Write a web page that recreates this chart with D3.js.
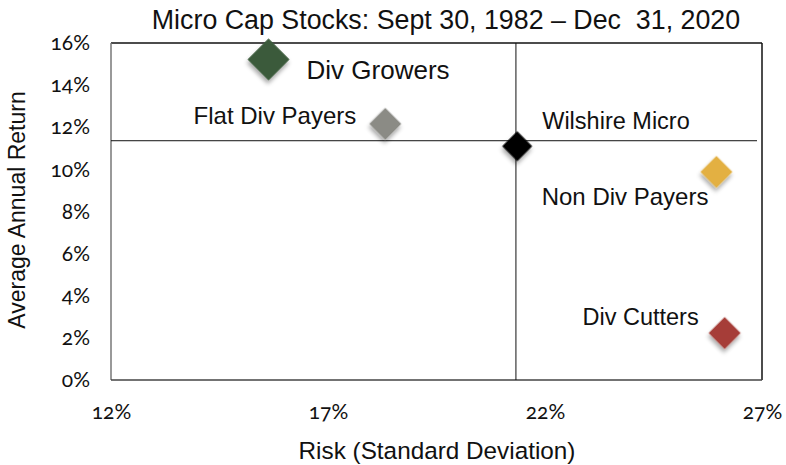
<!DOCTYPE html>
<html>
<head>
<meta charset="utf-8">
<script src="https://cdn.jsdelivr.net/npm/d3@7"></script>
<style>
  body { margin: 0; background: #fff; }
  text { font-family: "Liberation Sans", Arial, sans-serif; fill: #111; }
  .tick text { font-family: Lato, "Noto Sans", sans-serif; font-feature-settings: "onum" 1; font-variant-numeric: oldstyle-nums; }
</style>
</head>
<body>
<div id="chart"></div>
<script>
// data (risk %, return %)
var groups = ["Div Growers", "Flat Div Payers", "Wilshire Micro", "Non Div Payers", "Div Cutters"];
var risk = [15.63, 18.32, 21.36, 25.95, 26.14];
var ret = [15.22, 12.16, 11.1, 9.88, 2.23];
var colors = ["#3b5a3b", "#8b8b85", "#000000", "#e3b043", "#a63e37"];
// crosshair lines for the benchmark
var benchRisk = 21.33, benchRet = 11.36;
var xTicks = [12, 17, 22, 27];
var yTicks = [0, 2, 4, 6, 8, 10, 12, 14, 16];

// label placement relative to the marker: [dx, dy, anchor], marker half size
var labelPos = [[38, 20, "start"], [-29, 0, "end"], [25, -17, "start"], [-8, 33, "end"], [-26, -8, "end"]];
var labelSize = [26, 24, 23.5, 24, 23.5];
var markerHalf = [21, 16, 15, 16, 16];

var W = 786, H = 465;
var margin = {top: 43, right: 24, bottom: 85, left: 111};
var width = W - margin.left - margin.right,
    height = H - margin.top - margin.bottom;

var svg = d3.select("#chart").append("svg")
    .attr("width", W).attr("height", H);

var defs = svg.append("defs");
var f = defs.append("filter").attr("id", "shadow")
    .attr("x", "-50%").attr("y", "-50%").attr("width", "200%").attr("height", "200%");
f.append("feDropShadow").attr("dx", 2).attr("dy", 3).attr("stdDeviation", 2)
    .attr("flood-color", "#000").attr("flood-opacity", 0.35);

var g = svg.append("g").attr("transform", "translate(" + margin.left + "," + margin.top + ")");

var x = d3.scaleLinear().domain([12, 27]).range([0, width]);
var y = d3.scaleLinear().domain([0, 16]).range([height, 0]);

// axes (labels only)
g.append("g")
    .attr("transform", "translate(0," + (height + 21) + ")")
    .call(d3.axisBottom(x).tickValues(xTicks).tickSize(0).tickFormat(function(d) { return d + "%"; }))
    .call(function(s) { s.select(".domain").remove(); })
    .selectAll("text").style("font-size", "21px").attr("dy", "0.7em");

g.append("g")
    .attr("transform", "translate(-18,0)")
    .call(d3.axisLeft(y).tickValues(yTicks).tickSize(0).tickFormat(function(d) { return d + "%"; }))
    .call(function(s) { s.select(".domain").remove(); })
    .selectAll("text").style("font-size", "21px");

// frame
g.append("line").attr("x1", 0).attr("x2", width).attr("y1", 0).attr("y2", 0).attr("stroke", "#111").attr("stroke-width", 1.5);
g.append("line").attr("x1", width).attr("x2", width).attr("y1", 0).attr("y2", height).attr("stroke", "#111").attr("stroke-width", 1.5);
g.append("line").attr("x1", 0).attr("x2", 0).attr("y1", 0).attr("y2", height).attr("stroke", "#777").attr("stroke-width", 1.5);
g.append("line").attr("x1", 0).attr("x2", width).attr("y1", height).attr("y2", height).attr("stroke", "#444").attr("stroke-width", 1.5);

// benchmark crosshair
g.append("line").attr("x1", 0).attr("x2", width - 5)
    .attr("y1", y(benchRet)).attr("y2", y(benchRet)).attr("stroke", "#111").attr("stroke-width", 1);
g.append("line").attr("x1", x(benchRisk)).attr("x2", x(benchRisk))
    .attr("y1", 0).attr("y2", height).attr("stroke", "#111").attr("stroke-width", 1);

// markers
var sym = d3.symbol().type(d3.symbolSquare);
g.selectAll("path.pt")
    .data(groups)
    .enter().append("path")
    .attr("class", "pt")
    .attr("d", function(d, i) { return sym.size(2 * markerHalf[i] * markerHalf[i])(); })
    .attr("transform", function(d, i) { return "translate(" + x(risk[i]) + "," + y(ret[i]) + ") rotate(45)"; })
    .attr("fill", function(d, i) { return colors[i]; })
    .attr("filter", "url(#shadow)");

g.selectAll("text.lbl")
    .data(groups)
    .enter().append("text")
    .attr("class", "lbl")
    .attr("x", function(d, i) { return x(risk[i]) + labelPos[i][0]; })
    .attr("y", function(d, i) { return y(ret[i]) + labelPos[i][1]; })
    .attr("text-anchor", function(d, i) { return labelPos[i][2]; })
    .style("font-size", function(d, i) { return labelSize[i] + "px"; })
    .text(function(d) { return d; });

// titles
svg.append("text").attr("x", 446).attr("y", 29).attr("text-anchor", "middle")
    .style("font-size", "26.8px").text("Micro Cap Stocks: Sept 30, 1982 \u2013 Dec\u00a0 31, 2020");

svg.append("text").attr("x", 437).attr("y", 459).attr("text-anchor", "middle")
    .style("font-size", "24.3px").text("Risk (Standard Deviation)");

svg.append("text").attr("transform", "translate(25,210) rotate(-90)").attr("text-anchor", "middle")
    .style("font-size", "23px").text("Average Annual Return");
</script>
</body>
</html>
